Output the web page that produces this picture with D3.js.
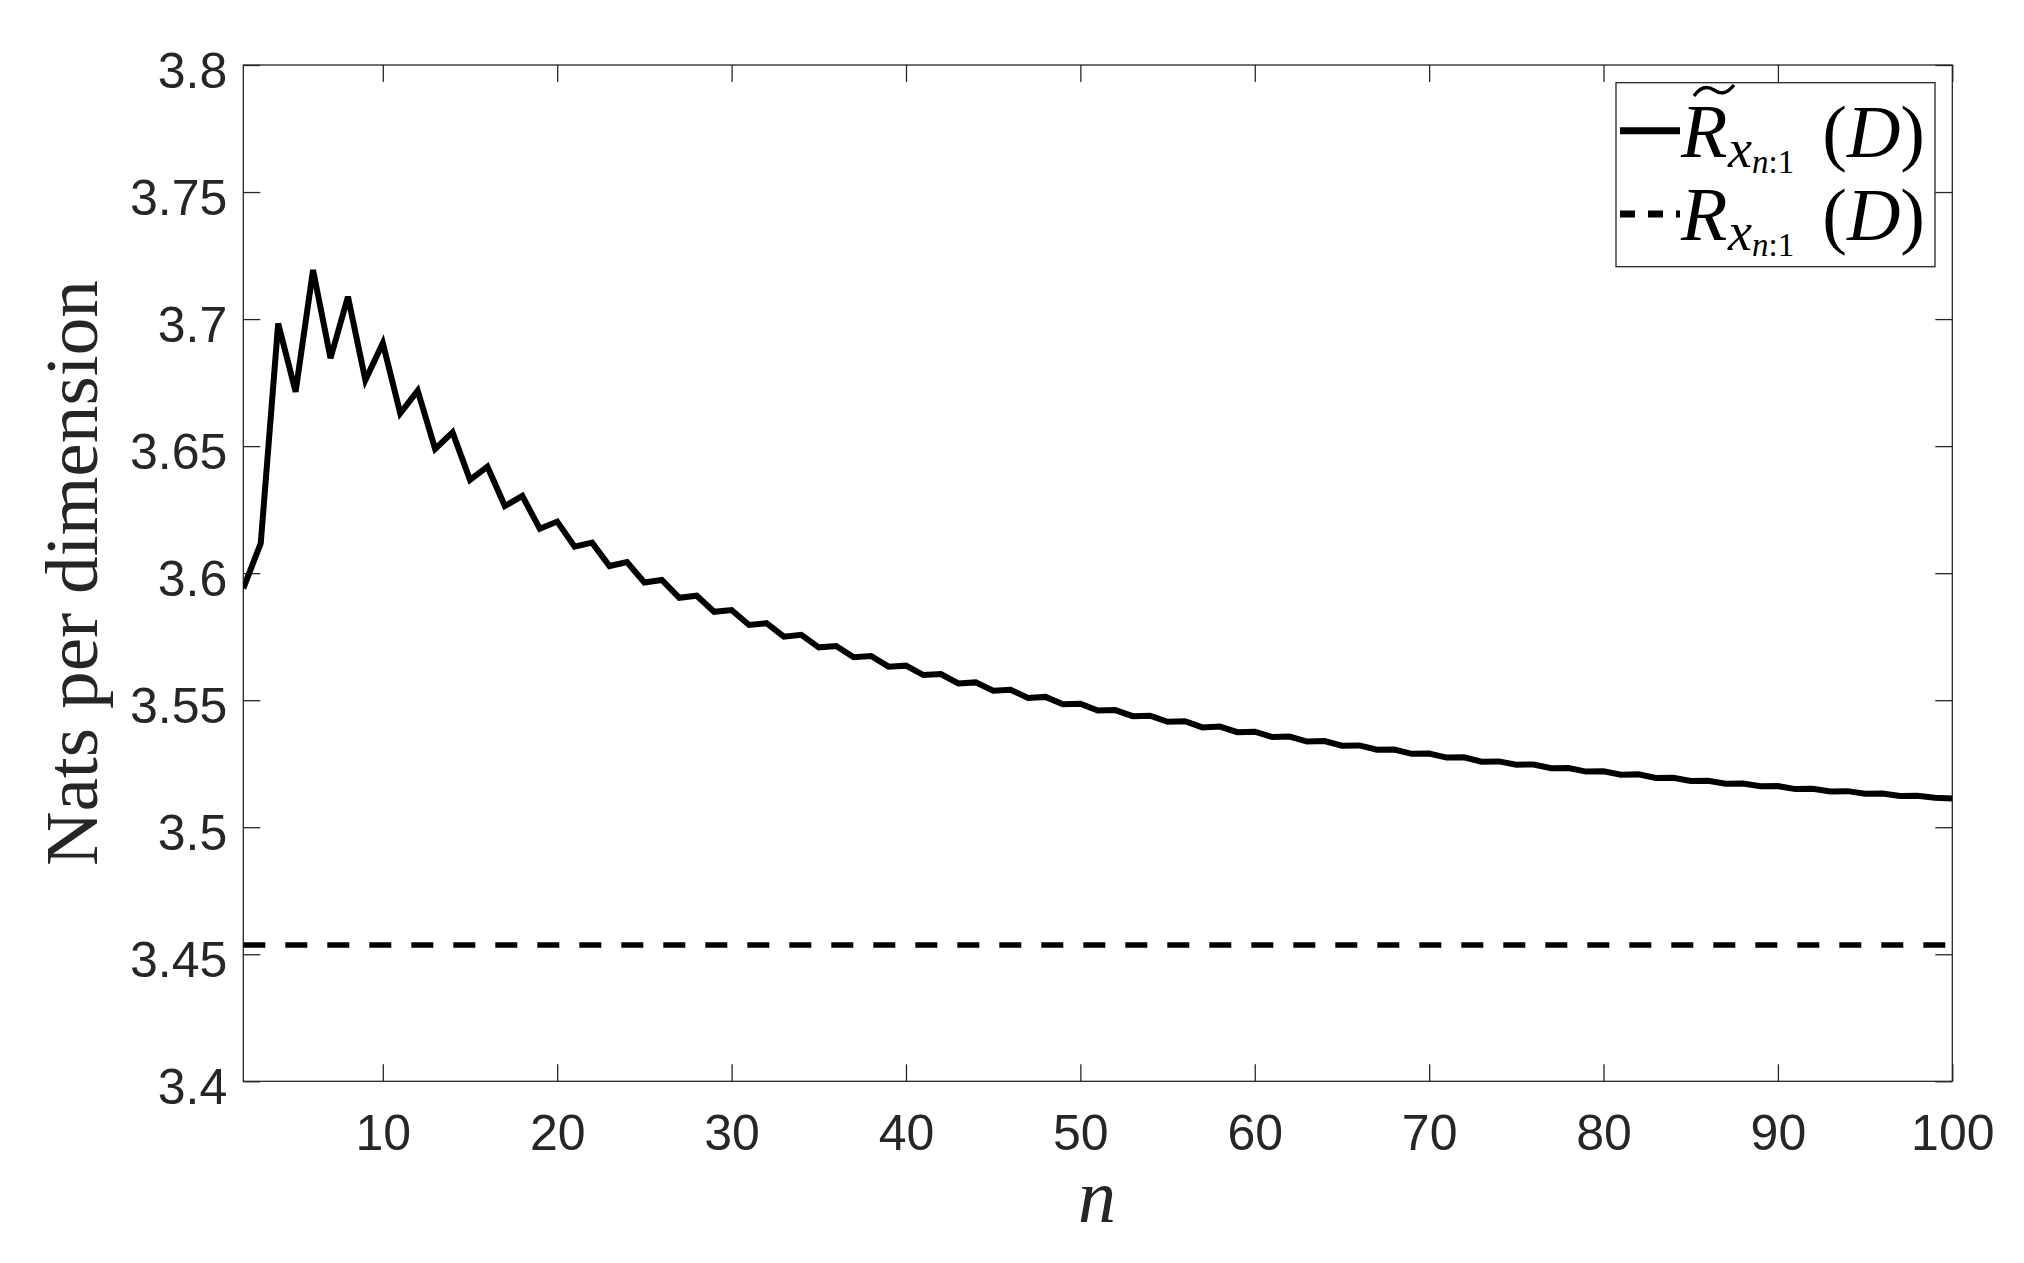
<!DOCTYPE html>
<html>
<head>
<meta charset="utf-8">
<script src="https://cdn.jsdelivr.net/npm/d3@7"></script>
<style>
    body { margin: 0; background: #fff; }
    svg { display: block; }
</style>
</head>
<body>
<svg id="chart" width="2024" height="1263"></svg>
<script>
// n on the x axis, rate values
const nValues = d3.range(2, 101);
const approxRate = [
    3.5940, 3.6117, 3.6983, 3.6714, 3.7193, 3.6846, 3.7088, 3.6760, 3.6905, 3.6629,
    3.6718, 3.6489, 3.6554, 3.6367, 3.6419, 3.6264, 3.6304, 3.6175, 3.6203, 3.6104,
    3.6120, 3.6028, 3.6044, 3.5963, 3.5973, 3.5903, 3.5911, 3.5848, 3.5855, 3.5796,
    3.5803, 3.5750, 3.5757, 3.5708, 3.5713, 3.5669, 3.5674, 3.5632, 3.5636, 3.5599,
    3.5603, 3.5566, 3.5570, 3.5537, 3.5541, 3.5509, 3.5513, 3.5484, 3.5486, 3.5459,
    3.5461, 3.5437, 3.5439, 3.5415, 3.5417, 3.5393, 3.5396, 3.5374, 3.5376, 3.5355,
    3.5357, 3.5337, 3.5339, 3.5321, 3.5322, 3.5305, 3.5306, 3.5289, 3.5290, 3.5274,
    3.5275, 3.5258, 3.5259, 3.5246, 3.5247, 3.5232, 3.5233, 3.5219, 3.5220, 3.5207,
    3.5208, 3.5194, 3.5195, 3.5182, 3.5183, 3.5171, 3.5172, 3.5161, 3.5162, 3.5150,
    3.5151, 3.5141, 3.5142, 3.5132, 3.5133, 3.5123, 3.5124, 3.5116, 3.5113
];
const boundRate = 3.4536;

const xTicks = [10, 20, 30, 40, 50, 60, 70, 80, 90, 100];
const yTicks = [3.4, 3.45, 3.5, 3.55, 3.6, 3.65, 3.7, 3.75, 3.8];
const yTickLabels = ['3.4', '3.45', '3.5', '3.55', '3.6', '3.65', '3.7', '3.75', '3.8'];

const axisColor = '#262626';
const box = { left: 243.3, right: 1952.3, top: 65, bottom: 1081.3 };

function render () {
    const svg = d3.select('#chart');

    const x = d3.scaleLinear().domain([2, 100]).range([box.left, box.right]);
    const y = d3.scaleLinear().domain([3.4, 3.8]).range([box.bottom, box.top]);

    svg.append('rect')
        .attr('width', 2024).attr('height', 1263).attr('fill', '#fff');

    svg.append('clipPath').attr('id', 'plotClip')
        .append('rect')
        .attr('x', box.left).attr('y', box.top)
        .attr('width', box.right - box.left).attr('height', box.bottom - box.top);

    const styleAxis = (g) => {
        g.select('.domain').remove();
        g.selectAll('.tick line').attr('stroke', axisColor).attr('stroke-width', 1.3);
        g.selectAll('.tick text')
            .attr('fill', axisColor)
            .attr('font-family', '"Liberation Sans", Arial, sans-serif')
            .attr('font-size', 50);
    };

    svg.append('g')
        .attr('transform', `translate(0,${box.bottom})`)
        .call(d3.axisBottom(x).tickValues(xTicks).tickSizeInner(-17).tickSizeOuter(0).tickPadding(33))
        .call(styleAxis);

    svg.append('g')
        .attr('transform', `translate(0,${box.top})`)
        .call(d3.axisTop(x).tickValues(xTicks).tickSizeInner(-17).tickSizeOuter(0).tickFormat(''))
        .call(styleAxis);

    svg.append('g')
        .attr('transform', `translate(${box.left},0)`)
        .call(d3.axisLeft(y).tickValues(yTicks).tickSizeInner(-17).tickSizeOuter(0).tickPadding(16)
            .tickFormat((d, i) => yTickLabels[i]))
        .call(styleAxis)
        .selectAll('.tick text').attr('dy', '0.44em');

    svg.append('g')
        .attr('transform', `translate(${box.right},0)`)
        .call(d3.axisRight(y).tickValues(yTicks).tickSizeInner(-17).tickSizeOuter(0).tickFormat(''))
        .call(styleAxis);

    // axes box
    svg.append('rect')
        .attr('x', box.left).attr('y', box.top)
        .attr('width', box.right - box.left).attr('height', box.bottom - box.top)
        .attr('fill', 'none').attr('stroke', axisColor).attr('stroke-width', 1.3);

    const plot = svg.append('g').attr('clip-path', 'url(#plotClip)');

    plot.append('path')
        .datum(nValues.map((n, i) => [n, approxRate[i]]))
        .attr('d', d3.line().x(d => x(d[0])).y(d => y(d[1])))
        .attr('fill', 'none')
        .attr('stroke', '#000')
        .attr('stroke-width', 6)
        .attr('stroke-linejoin', 'miter');

    plot.append('path')
        .datum([[2, boundRate], [100, boundRate]])
        .attr('d', d3.line().x(d => x(d[0])).y(d => y(d[1])))
        .attr('fill', 'none')
        .attr('stroke', '#000')
        .attr('stroke-width', 5.5)
        .attr('stroke-dasharray', '22,20');

    // axis labels
    svg.append('text')
        .attr('transform', 'translate(97,573) rotate(-90)')
        .attr('text-anchor', 'middle')
        .attr('font-family', '"Liberation Serif", "Times New Roman", serif')
        .attr('font-size', 74)
        .attr('textLength', 586)
        .attr('lengthAdjust', 'spacingAndGlyphs')
        .attr('fill', axisColor)
        .text('Nats per dimension');

    svg.append('text')
        .attr('x', 1097).attr('y', 1222)
        .attr('text-anchor', 'middle')
        .attr('font-family', '"Liberation Serif", "Times New Roman", serif')
        .attr('font-style', 'italic')
        .attr('font-size', 76)
        .attr('fill', axisColor)
        .text('n');

    renderLegend(svg);
}

function renderLegend (svg) {
    const serif = '"Liberation Serif", "Times New Roman", serif';
    const legend = svg.append('g');

    legend.append('rect')
        .attr('x', 1616).attr('y', 82.7)
        .attr('width', 319).attr('height', 184)
        .attr('fill', '#fff').attr('stroke', axisColor).attr('stroke-width', 1.3);

    const entries = [
        { baseline: 156.7, dash: null, tilde: true },
        { baseline: 240, dash: '15,13', tilde: false }
    ];

    entries.forEach((e) => {
        const sampleY = e.baseline - 26;
        legend.append('line')
            .attr('x1', 1620).attr('x2', 1680)
            .attr('y1', sampleY).attr('y2', sampleY)
            .attr('stroke', '#000')
            .attr('stroke-width', 7)
            .attr('stroke-dasharray', e.dash);

        legend.append('text')
            .attr('x', 1681).attr('y', e.baseline)
            .attr('font-family', serif).attr('font-style', 'italic')
            .attr('font-size', 76).attr('fill', '#000')
            .text('R');

        if (e.tilde) {
            legend.append('path')
                .attr('d', 'M1694,96 C1701,86 1708,86 1714,90 S1726,95 1734,85')
                .attr('fill', 'none').attr('stroke', '#000').attr('stroke-width', 3.4);
        }

        legend.append('text')
            .attr('x', 1728).attr('y', e.baseline + 10)
            .attr('font-family', serif).attr('font-style', 'italic')
            .attr('font-size', 54).attr('fill', '#000')
            .text('x');

        const sub = legend.append('text')
            .attr('x', 1752).attr('y', e.baseline + 16)
            .attr('font-family', serif).attr('font-size', 33).attr('fill', '#000');
        sub.append('tspan').attr('font-style', 'italic').text('n');
        sub.append('tspan').text(':1');

        const arg = legend.append('text')
            .attr('x', 1925).attr('y', e.baseline)
            .attr('text-anchor', 'end')
            .attr('font-family', serif).attr('font-size', 74).attr('fill', '#000');
        arg.append('tspan').text('(');
        arg.append('tspan').attr('font-style', 'italic').text('D');
        arg.append('tspan').text(')');
    });
}

render();
</script>
</body>
</html>
